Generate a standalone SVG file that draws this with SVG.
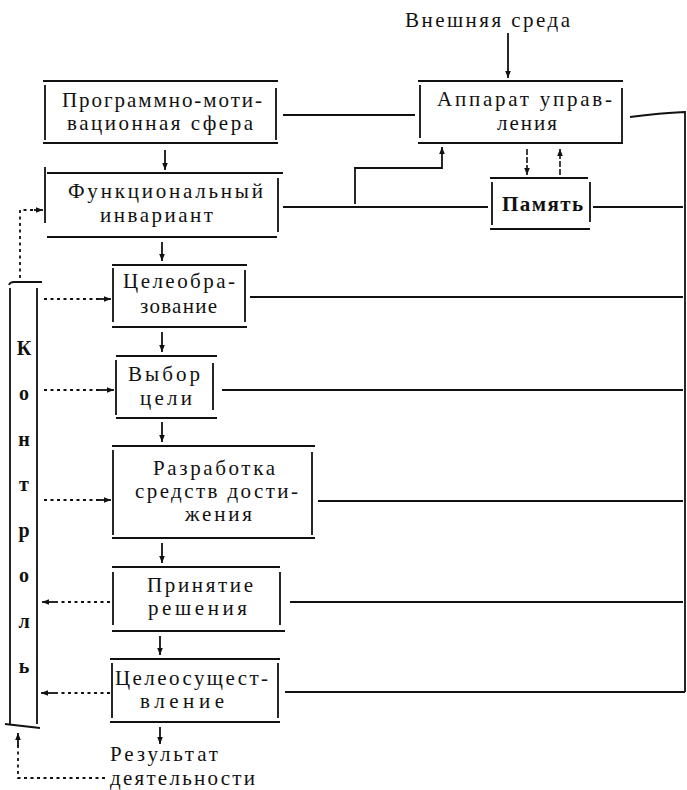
<svg xmlns="http://www.w3.org/2000/svg" width="687" height="790" viewBox="0 0 687 790">
  <style>
    .ln { fill: none; stroke: #111; stroke-width: 1.8; }
    .dot { fill: none; stroke: #111; stroke-width: 1.8; stroke-dasharray: 3 3.5; }
    .brk { fill: none; stroke: #111; stroke-width: 1.6; stroke-dasharray: 6 2; }
  </style>
  <defs>
    <marker id="ah" viewBox="0 0 10 10" refX="10" refY="5" markerWidth="7" markerHeight="7" markerUnits="userSpaceOnUse" orient="auto">
      <path d="M0 1 L10 5 L0 9 Z" fill="#111"/>
    </marker>
  </defs>

  <rect width="687" height="790" fill="#fff"/>

  <!-- external input -->
  <g id="env">
    <text x="405" y="27" font-family="Liberation Serif" font-size="21" fill="#111" textLength="165" lengthAdjust="spacing">Внешняя среда</text>
  </g>

  <!-- boxes: top and bottom rules, inset side bars -->
  <g id="prog">
    <path class="ln" d="M43 81 H278 M43 143 H278 M45 85 V140 M276 88 V140"/>
    <text x="62" y="107" font-family="Liberation Serif" font-size="21" fill="#111" textLength="200" lengthAdjust="spacing">Программно-моти-</text>
    <text x="67" y="130" font-family="Liberation Serif" font-size="21" fill="#111" textLength="186" lengthAdjust="spacing">вационная сфера</text>
  </g>

  <g id="func">
    <path class="ln" d="M47 173 H283 M47 237 H277 M45 167 V223 M278 178 V232"/>
    <text x="68" y="198" font-family="Liberation Serif" font-size="21" fill="#111" textLength="195" lengthAdjust="spacing">Функциональный</text>
    <text x="100" y="222" font-family="Liberation Serif" font-size="21" fill="#111" textLength="113" lengthAdjust="spacing">инвариант</text>
  </g>

  <g id="apparat">
    <path class="ln" d="M418 81 H623 M418 143 H623 M420 85 V138 M622 88 V142"/>
    <text x="437" y="106" font-family="Liberation Serif" font-size="21" fill="#111" textLength="175" lengthAdjust="spacing">Аппарат управ-</text>
    <text x="497" y="130" font-family="Liberation Serif" font-size="21" fill="#111" textLength="60" lengthAdjust="spacing">ления</text>
  </g>

  <g id="memory">
    <path class="ln" d="M490 178 H588 M490 229 H590 M492 182 V225 M590 182 V222"/>
    <text x="502" y="211" font-family="Liberation Serif" font-size="21" font-weight="bold" fill="#111" textLength="81" lengthAdjust="spacing">Память</text>
  </g>

  <g id="goalform">
    <path class="ln" d="M112 265 H247 M112 327 H247 M113 268 V322 M245 270 V322"/>
    <text x="123" y="288" font-family="Liberation Serif" font-size="21" fill="#111" textLength="112" lengthAdjust="spacing">Целеобра-</text>
    <text x="140" y="313" font-family="Liberation Serif" font-size="21" fill="#111" textLength="77" lengthAdjust="spacing">зование</text>
  </g>

  <g id="goalchoice">
    <path class="ln" d="M116 356 H217 M116 418 H217 M116 360 V415 M213 363 V410"/>
    <text x="128" y="381" font-family="Liberation Serif" font-size="21" fill="#111" textLength="72" lengthAdjust="spacing">Выбор</text>
    <text x="140" y="405" font-family="Liberation Serif" font-size="21" fill="#111" textLength="52" lengthAdjust="spacing">цели</text>
  </g>

  <g id="means">
    <path class="ln" d="M112 446 H315 M112 538 H315 M113 450 V535 M312 452 V535"/>
    <text x="153" y="475" font-family="Liberation Serif" font-size="21" fill="#111" textLength="122" lengthAdjust="spacing">Разработка</text>
    <text x="135" y="498" font-family="Liberation Serif" font-size="21" fill="#111" textLength="163" lengthAdjust="spacing">средств дости-</text>
    <text x="185" y="521" font-family="Liberation Serif" font-size="21" fill="#111" textLength="67" lengthAdjust="spacing">жения</text>
  </g>

  <g id="decision">
    <path class="ln" d="M112 567 H280 M112 631 H285 M113 572 V625 M280 572 V625"/>
    <text x="147" y="592" font-family="Liberation Serif" font-size="21" fill="#111" textLength="106" lengthAdjust="spacing">Принятие</text>
    <text x="148" y="615" font-family="Liberation Serif" font-size="21" fill="#111" textLength="99" lengthAdjust="spacing">решения</text>
  </g>

  <g id="realization">
    <path class="ln" d="M110 659 H280 M110 722 H280 M112 663 V718 M278 663 V718"/>
    <text x="115" y="685" font-family="Liberation Serif" font-size="21" fill="#111" textLength="153" lengthAdjust="spacing">Целеосущест-</text>
    <text x="140" y="708" font-family="Liberation Serif" font-size="21" fill="#111" textLength="84" lengthAdjust="spacing">вление</text>
  </g>

  <g id="control">
    <path class="ln" d="M9 285 Q10 282 14 282 H42 M10 288 V724 M37 288 V724 M5 724 L40 728"/>
    <text x="24" y="355" font-family="Liberation Serif" font-size="20" font-weight="bold" fill="#111" text-anchor="middle">К</text>
    <text x="24" y="400" font-family="Liberation Serif" font-size="20" font-weight="bold" fill="#111" text-anchor="middle">о</text>
    <text x="24" y="446" font-family="Liberation Serif" font-size="20" font-weight="bold" fill="#111" text-anchor="middle">н</text>
    <text x="24" y="491" font-family="Liberation Serif" font-size="20" font-weight="bold" fill="#111" text-anchor="middle">т</text>
    <text x="24" y="537" font-family="Liberation Serif" font-size="20" font-weight="bold" fill="#111" text-anchor="middle">р</text>
    <text x="24" y="582" font-family="Liberation Serif" font-size="20" font-weight="bold" fill="#111" text-anchor="middle">о</text>
    <text x="24" y="628" font-family="Liberation Serif" font-size="20" font-weight="bold" fill="#111" text-anchor="middle">л</text>
    <text x="24" y="673" font-family="Liberation Serif" font-size="20" font-weight="bold" fill="#111" text-anchor="middle">ь</text>
  </g>

  <g id="result">
    <text x="110" y="761" font-family="Liberation Serif" font-size="21" fill="#111" textLength="108" lengthAdjust="spacing">Результат</text>
    <text x="110" y="785" font-family="Liberation Serif" font-size="21" fill="#111" textLength="145" lengthAdjust="spacing">деятельности</text>
  </g>

  <!-- connectors -->
  <g id="connectors">
    <!-- main vertical chain -->
    <path class="ln" d="M508 33 V78" marker-end="url(#ah)"/>
    <path class="ln" d="M165 150 V170" marker-end="url(#ah)"/>
    <path class="ln" d="M162 242 V261" marker-end="url(#ah)"/>
    <path class="ln" d="M162 332 V352" marker-end="url(#ah)"/>
    <path class="ln" d="M162 422 V442" marker-end="url(#ah)"/>
    <path class="ln" d="M162 543 V563" marker-end="url(#ah)"/>
    <path class="ln" d="M160 636 V655" marker-end="url(#ah)"/>
    <path class="ln" d="M160 727 V744" marker-end="url(#ah)"/>

    <!-- control unit links -->
    <path class="ln" d="M283 115 H415"/>
    <path class="ln" d="M283 207 H488"/>
    <path class="ln" d="M355 204 V168 H442 V147" marker-end="url(#ah)"/>
    <path class="brk" d="M527 149 V175" marker-end="url(#ah)"/>
    <path class="brk" d="M560 175 V149" marker-end="url(#ah)"/>
    <path class="ln" d="M593 207 H683"/>
    <path class="ln" d="M630 117 Q660 113 685 112 V692"/>

    <!-- feedback lines to the right bus -->
    <path class="ln" d="M250 297 H683"/>
    <path class="ln" d="M222 390 H683"/>
    <path class="ln" d="M318 501 H683"/>
    <path class="ln" d="M290 602 H683"/>
    <path class="ln" d="M285 692 H685"/>

    <!-- control (dotted) -->
    <path class="dot" d="M20 278 V210 H40"/>
    <path class="ln" d="M34 210 H43" marker-end="url(#ah)"/>
    <path class="dot" d="M44 299 H100"/>
    <path class="ln" d="M98 299 H111" marker-end="url(#ah)"/>
    <path class="dot" d="M44 390 H100"/>
    <path class="ln" d="M98 390 H114" marker-end="url(#ah)"/>
    <path class="dot" d="M44 500 H100"/>
    <path class="ln" d="M98 500 H111" marker-end="url(#ah)"/>
    <path class="dot" d="M110 602 H58"/>
    <path class="ln" d="M58 602 H42" marker-end="url(#ah)"/>
    <path class="dot" d="M110 693 H58"/>
    <path class="ln" d="M58 693 H41" marker-end="url(#ah)"/>
    <path class="dot" d="M105 778 H18 V745"/>
    <path class="ln" d="M18 746 V733" marker-end="url(#ah)"/>
  </g>
</svg>
